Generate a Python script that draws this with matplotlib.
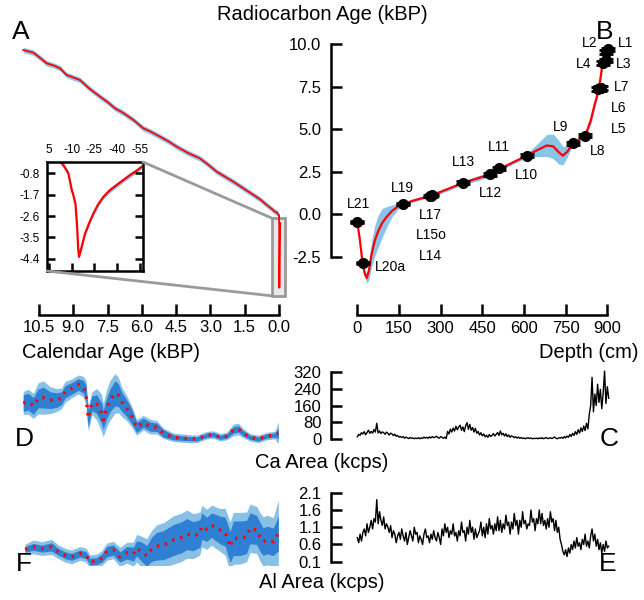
import numpy as np
import matplotlib
matplotlib.use('Agg')
import matplotlib.pyplot as plt
from matplotlib.patches import Rectangle, ConnectionPatch

plt.rcParams['font.family'] = ['Liberation Sans', 'DejaVu Sans']
plt.rcParams['axes.unicode_minus'] = False

# --- panel A: calibration curve (calendar kBP vs radiocarbon kBP)
calib_age = [11.19, 11.0, 10.75, 10.45, 10.16, 9.85, 9.58, 9.29, 9.0, 8.71, 8.3, 7.83,
             7.5, 7.18, 6.8, 6.37, 5.94, 5.6, 5.21, 4.85, 4.48, 4.0, 3.46, 3.1, 2.73,
             2.35, 2.0, 1.55, 1.12, 0.8, 0.54, 0.3, 0.18, 0.08, 0.03, 0.0]
calib_rc = [9.66, 9.6, 9.51, 9.2, 8.88, 8.75, 8.59, 8.19, 8.05, 7.9, 7.4, 6.92,
            6.6, 6.24, 5.95, 5.55, 5.06, 4.85, 4.57, 4.3, 3.98, 3.62, 3.29, 2.92, 2.51,
            2.2, 1.92, 1.52, 1.14, 0.85, 0.55, 0.3, 0.15, 0.1, -0.04, -0.05]
# bomb part (calendar years BP vs radiocarbon kBP)
bomb_year = [0, -5, -7.8, -10, -11, -12.5, -13.5, -14.3, -14.8, -16, -18.8, -21.5,
             -24.3, -27.5, -30.9, -35, -39.7, -44, -48.5, -52.5, -56.2]
bomb_rc = [-0.1, -0.5, -0.8, -1.5, -1.7, -2.1, -3.0, -4.0, -4.32, -4.04, -3.34, -2.9,
           -2.49, -2.1, -1.79, -1.52, -1.29, -1.08, -0.87, -0.7, -0.52]

# --- panel B: age-depth model
model_depth = [0, 10, 19, 27, 34, 42, 52, 62, 75, 90, 106, 125, 145, 166, 200, 265, 320,
               382, 430, 478, 510, 560, 610, 645, 682, 705, 725, 740, 757, 775, 800, 820,
               840, 855, 870, 883, 893, 903]
model_rc = [-0.45, -1.6, -2.88, -3.5, -3.75, -3.3, -2.3, -1.6, -1.0, -0.5, -0.14, 0.2,
            0.45, 0.6, 0.8, 1.1, 1.45, 1.86, 2.1, 2.35, 2.65, 3.05, 3.45, 3.75, 4.05,
            4.0, 3.65, 3.45, 3.7, 4.18, 4.4, 4.62, 5.5, 6.5, 7.37, 8.9, 9.4, 9.75]
model_err = [0.05, 0.08, 0.1, 0.18, 0.3, 0.55, 0.75, 0.9, 0.95, 0.85, 0.6, 0.35, 0.18,
             0.06, 0.08, 0.1, 0.1, 0.1, 0.15, 0.12, 0.1, 0.1, 0.12, 0.35, 0.65, 0.72,
             0.7, 0.55, 0.3, 0.1, 0.1, 0.1, 0.25, 0.25, 0.15, 0.15, 0.12, 0.1]

lab_names = ['L1', 'L2', 'L3', 'L4', 'L5', 'L6', 'L7', 'L8', 'L9', 'L10', 'L11', 'L12',
             'L13', 'L14', 'L15o', 'L17', 'L19', 'L20a', 'L21']
lab_depth = [903, 895, 897, 883, 866, 872, 878, 820, 775, 610, 510, 478, 382, 262, 265,
             268, 166, 19, 0]
lab_rc = [9.7, 9.55, 9.05, 8.9, 7.35, 7.4, 7.45, 4.62, 4.18, 3.45, 2.7, 2.35, 1.86,
          1.08, 1.1, 1.12, 0.6, -2.88, -0.45]
lab_depth_err = [15, 15, 18, 15, 15, 15, 15, 20, 18, 18, 20, 20, 20, 18, 18, 18, 25,
                 22, 25]
lab_rc_err = [0.1, 0.1, 0.1, 0.1, 0.12, 0.12, 0.12, 0.1, 0.1, 0.08, 0.08, 0.08, 0.08,
              0.06, 0.06, 0.06, 0.05, 0.05, 0.05]
label_pos = [(967, 10.06), (835, 10.1), (960, 8.84), (814, 8.84), (940, 5.0),
             (940, 6.24), (952, 7.47), (864, 3.74), (730, 5.12), (610, 2.31),
             (510, 3.94), (480, 1.24), (382, 3.06), (265, -2.43), (265, -1.22),
             (265, -0.04), (163, 1.53), (120, -3.08), (4, 0.6)]

# --- panel C: Ca area vs depth (5 cm steps from 0)
depth_step = 5
ca_raw = [10, 22, 18, 30, 24, 35, 20, 31, 42, 27,
          36, 28, 45, 33, 75, 29, 38, 26, 34, 30,
          22, 33, 27, 19, 28, 24, 16, 23, 13, 17,
          9, 12, 7, 11, 4, 9, 5, 2, 7, 3,
          5, 1, 4, 2, 6, 1, 5, 3, 9, 4,
          8, 3, 10, 5, 11, 6, 9, 13, 7, 4,
          11, 8, 3, 9, 2, 36, 24, 47, 33, 52,
          38, 61, 44, 57, 66, 41, 58, 35, 63, 78,
          46, 70, 42, 55, 33, 51, 27, 36, 19, 30,
          15, 24, 10, 18, 8, 21, 12, 17, 26, 14,
          22, 31, 17, 38, 20, 27, 14, 25, 11, 19,
          8, 15, 12, 6, 11, 4, 9, 3, 7, 2,
          5, 1, 4, 6, 2, 5, 1, 3, 2, 4,
          1, 5, 2, 6, 1, 4, 7, 2, 3, 6,
          2, 5, 10, 3, 1, 6, 4, 8, 3, 11,
          5, 14, 8, 21, 12, 27, 17, 35, 22, 44,
          28, 53, 36, 62, 40, 75, 48, 118, 160, 295,
          130, 215, 160, 262, 175, 238, 145, 220, 325, 170,
          250, 195]

# --- panel E: Al area vs depth (5 cm steps from 0)
al_raw = [0.8, 0.65, 0.9, 0.7, 0.95, 1.05, 0.85, 1.2, 0.95, 1.1, 1.3,
          1.05, 1.35, 1.25, 1.9, 1.2, 1.55, 1.3, 1.15, 1.4, 1.05,
          1.2, 1.1, 0.95, 1.15, 0.8, 1.0, 0.9, 0.65, 0.85, 0.95,
          0.75, 1.05, 0.85, 0.7, 0.95, 0.6, 0.8, 1.0, 0.85, 0.7,
          1.1, 0.9, 0.95, 0.65, 0.85, 0.75, 0.6, 0.9, 1.05, 0.8,
          0.85, 0.65, 0.9, 0.75, 1.0, 0.8, 0.7, 0.95, 0.8, 0.6,
          1.05, 0.85, 1.2, 0.95, 1.1, 0.8, 1.0, 0.9, 1.2, 0.85,
          0.95, 0.7, 1.0, 0.85, 1.25, 0.95, 1.0, 0.7, 1.1, 0.9,
          1.3, 0.95, 1.1, 0.75, 1.05, 0.8, 0.9, 1.0, 1.25, 0.85,
          1.1, 0.8, 1.2, 0.9, 1.35, 1.05, 1.15, 0.9, 1.2, 1.0,
          1.4, 1.0, 1.3, 0.95, 1.2, 1.05, 1.45, 1.15, 1.25, 0.9,
          1.25, 1.05, 1.5, 1.15, 1.3, 0.9, 1.3, 1.1, 1.55, 1.2,
          1.3, 1.05, 1.2, 1.15, 1.6, 1.25, 1.35, 1.0, 1.35, 1.2,
          1.6, 1.2, 1.5, 1.15, 1.3, 1.05, 1.35, 1.1, 1.55, 1.25,
          1.35, 1.0, 1.3, 0.95, 1.1, 0.75, 0.6, 0.4, 0.3, 0.45,
          0.25, 0.5, 0.35, 0.6, 0.45, 0.7, 0.5, 0.8, 0.55, 0.65,
          0.45, 0.75, 0.6, 0.9, 0.55, 0.7, 0.5, 0.85, 1.05, 0.7,
          0.9, 0.55, 0.75, 0.45, 0.65, 0.35, 0.6, 0.4, 0.7, 0.5,
          0.55]

# --- panel D: Ca on calendar age (mean, 1 and 2 sigma half widths)
d_age = [11.19, 10.97, 10.75, 10.53, 10.31, 10.02, 9.73, 9.51, 9.36, 9.07, 8.78, 8.56,
         8.44, 8.39, 8.34, 8.19, 7.98, 7.76, 7.69, 7.54, 7.39, 7.18, 7.03, 6.88, 6.66,
         6.44, 6.23, 5.94, 5.64, 5.35, 5.06, 4.62, 4.04, 3.6, 3.16, 2.87, 2.58, 2.29,
         2.0, 1.78, 1.56, 1.27, 0.91, 0.54, 0.18, 0.03]
d_mean = [173, 178, 158, 195, 198, 186, 186, 195, 226, 242, 261, 250, 218, 139, 99, 171,
          167, 123, 91, 147, 186, 218, 210, 178, 147, 107, 56, 78, 59, 56, 27, 8, 2, 0,
          18, 21, 8, 14, 43, 48, 27, 8, 0, 14, 19, 27]
d_inner = [40, 40, 40, 45, 50, 40, 35, 30, 30, 28, 28, 30, 40, 40, 40, 35, 45, 50, 45,
           50, 55, 60, 55, 45, 40, 35, 25, 22, 22, 20, 18, 12, 10, 10, 10, 10, 10, 10,
           15, 15, 12, 10, 10, 10, 10, 25]
d_outer = [55, 60, 60, 75, 80, 65, 55, 50, 50, 45, 45, 50, 60, 60, 60, 55, 75, 90, 80,
           90, 95, 95, 85, 70, 60, 50, 38, 35, 35, 32, 25, 20, 20, 18, 18, 18, 18, 18,
           28, 28, 22, 18, 18, 18, 18, 55]

# --- panel F: Al on calendar age
f_age = [11.11, 10.75, 10.38, 9.95, 9.66, 9.36, 9.07, 8.71, 8.44, 8.27, 7.98, 7.76,
         7.54, 7.25, 6.96, 6.66, 6.37, 6.23, 6.01, 5.79, 5.57, 5.35, 5.06, 4.62, 4.26,
         4.04, 3.75, 3.46, 3.38, 3.16, 2.95, 2.8, 2.58, 2.36, 2.14, 2.0, 1.71, 1.42,
         1.27, 0.98, 0.83, 0.69, 0.54, 0.25, 0.03]
f_mean = [0.46, 0.53, 0.48, 0.53, 0.39, 0.29, 0.24, 0.34, 0.29, 0.10, 0.12, 0.2, 0.39,
          0.44, 0.24, 0.36, 0.32, 0.49, 0.39, 0.27, 0.46, 0.55, 0.58, 0.73, 0.81, 0.9,
          0.84, 0.92, 1.13, 1.04, 1.16, 1.1, 1.02, 0.97, 0.53, 0.78, 0.78, 0.82, 1.07,
          1.02, 0.82, 0.68, 0.73, 0.68, 0.92]
f_inner = [0.08, 0.1, 0.1, 0.12, 0.1, 0.1, 0.1, 0.1, 0.1, 0.1, 0.1, 0.12, 0.15, 0.15,
           0.15, 0.18, 0.2, 0.22, 0.28, 0.3, 0.35, 0.4, 0.42, 0.45, 0.45, 0.45, 0.42,
           0.4, 0.38, 0.35, 0.35, 0.38, 0.4, 0.42, 0.45, 0.5, 0.5, 0.48, 0.45, 0.42,
           0.42, 0.4, 0.4, 0.4, 0.5]
f_outer = [0.15, 0.2, 0.2, 0.22, 0.2, 0.2, 0.2, 0.2, 0.2, 0.2, 0.2, 0.22, 0.25, 0.25,
           0.28, 0.3, 0.35, 0.4, 0.45, 0.5, 0.55, 0.62, 0.65, 0.7, 0.7, 0.7, 0.65, 0.62,
           0.6, 0.58, 0.58, 0.6, 0.62, 0.68, 0.72, 0.75, 0.75, 0.72, 0.7, 0.68, 0.7,
           0.72, 0.72, 0.7, 0.97]

RED = '#ff0000'
BAND = '#8ac4e6'
LIGHT = '#88c1e5'
DARK = '#2f7fd2'
GRAY = '#9a9a9a'
SPW = 1.8

W, H = 644, 600
fig = plt.figure(figsize=(W / 100, H / 100), dpi=100)


def px_axes(l, t, r, b):
    return fig.add_axes([l / W, 1 - b / H, (r - l) / W, (b - t) / H])


def clean(ax):
    for s in ax.spines.values():
        s.set_visible(False)
    ax.set_xticks([])
    ax.set_yticks([])
    ax.patch.set_alpha(0)


def left_axis(ax, ticks, bounds, fmt):
    ax.spines['left'].set_visible(True)
    ax.spines['left'].set_linewidth(SPW)
    ax.spines['left'].set_bounds(*bounds)
    ax.set_yticks(ticks)
    ax.set_yticklabels([fmt % t for t in ticks])
    ax.tick_params(axis='y', direction='in', length=8, width=SPW, labelsize=12, pad=7)


def bottom_axis(ax, ticks, bounds, fmt, offset):
    ax.spines['bottom'].set_visible(True)
    ax.spines['bottom'].set_linewidth(SPW)
    ax.spines['bottom'].set_bounds(*bounds)
    ax.spines['bottom'].set_position(('outward', offset))
    ax.set_xticks(ticks)
    ax.set_xticklabels([fmt % t for t in ticks])
    ax.tick_params(axis='x', direction='in', length=8, width=SPW, labelsize=12, pad=4)


LX = (11.55, -0.48)        # left column calendar age range
RX = (-94.7, 988.8)        # right column depth range
LEFT = (15, 290)
RIGHT = (331, 632)

# ---------------- A
axA = px_axes(LEFT[0], 39.2, LEFT[1], 299.3)
clean(axA)
axA.set_xlim(*LX)
axA.set_ylim(-5.0, 10.3)
ca_ = np.array(calib_age + [y / 1000 for y in bomb_year])
cr_ = np.array(calib_rc + bomb_rc)
axA.fill_between(calib_age, np.array(calib_rc) - 0.16, np.array(calib_rc) + 0.16,
                 color=BAND, lw=0)
axA.plot(ca_, cr_, color=RED, lw=1.3)
bottom_axis(axA, [10.5, 9.0, 7.5, 6.0, 4.5, 3.0, 1.5, 0.0], (10.5, 0.0), '%.1f', 11)

zoom_box = (-0.26, -4.8, 0.55, 4.56)   # x0, y0, width, height in A data units
axA.add_patch(Rectangle(zoom_box[:2], zoom_box[2], zoom_box[3], facecolor='#e8e8e8',
                        edgecolor=GRAY, lw=2, zorder=1))

ins = px_axes(47, 162, 143, 271)
ins.set_xlim(6.3, -57.0)
ins.set_ylim(-4.92, -0.32)
ins.fill_between(bomb_year, np.array(bomb_rc) - 0.1, np.array(bomb_rc) + 0.1,
                 color=BAND, lw=0)
ins.plot(bomb_year, bomb_rc, color=RED, lw=1.6)
for s in ins.spines.values():
    s.set_linewidth(SPW)
ins.set_xticks([5, -10, -25, -40, -55])
ins.set_xticklabels(['5', '-10', '-25', '-40', '-55'])
ins.set_yticks([-0.8, -1.7, -2.6, -3.5, -4.4])
ins.set_yticklabels(['-0.8', '-1.7', '-2.6', '-3.5', '-4.4'])
ins.tick_params(axis='x', direction='in', length=6, width=SPW, labelsize=8.5,
                bottom=True, top=False, labelbottom=False, labeltop=True, pad=4)
ins.tick_params(axis='y', direction='in', length=6, width=SPW, labelsize=8.5,
                left=True, right=True, pad=5)

for xa, xb in [((1, 1), (zoom_box[0] + zoom_box[2], zoom_box[1] + zoom_box[3])),
               ((0, 0), (zoom_box[0] + zoom_box[2], zoom_box[1]))]:
    fig.add_artist(ConnectionPatch(xyA=xa, coordsA=ins.transAxes, xyB=xb,
                                   coordsB=axA.transData, color=GRAY, lw=2))

# ---------------- B
axB = px_axes(RIGHT[0], 39.2, RIGHT[1], 299.3)
clean(axB)
axB.set_xlim(*RX)
axB.set_ylim(-5.0, 10.3)
mr = np.array(model_rc)
me = np.array(model_err)
axB.fill_between(model_depth, mr - me, mr + me, color=BAND, lw=0)
axB.plot(model_depth, model_rc, color=RED, lw=1.6)
axB.errorbar(lab_depth, lab_rc, yerr=lab_rc_err, fmt='none', ecolor='black',
             elinewidth=2, capsize=5, capthick=2)
axB.errorbar(lab_depth, lab_rc, xerr=lab_depth_err, fmt='o', ms=7, color='black',
             elinewidth=2, capsize=0)
for name, (tx, ty) in zip(lab_names, label_pos):
    axB.text(tx, ty, name, fontsize=10, ha='center', va='center')
left_axis(axB, [-2.5, 0.0, 2.5, 5.0, 7.5, 10.0], (-2.5, 10.0), '%.1f')
bottom_axis(axB, [0, 150, 300, 450, 600, 750, 900], (0, 900), '%d', 11.5)

# ---------------- C / D
axC = px_axes(RIGHT[0], 369, RIGHT[1], 442.1)
clean(axC)
axC.set_xlim(*RX)
axC.set_ylim(-15, 335)
axC.plot(np.arange(len(ca_raw)) * depth_step, ca_raw, color='black', lw=1.0)
left_axis(axC, [0, 80, 160, 240, 320], (0, 320), '%d')

axD = px_axes(LEFT[0], 369, LEFT[1], 442.1)
clean(axD)
axD.set_xlim(*LX)
axD.set_ylim(-15, 335)
dm = np.array(d_mean, float)
axD.fill_between(d_age, dm - d_outer, dm + np.array(d_outer), color=LIGHT, lw=0)
axD.fill_between(d_age, dm - d_inner, dm + np.array(d_inner), color=DARK, lw=0)
axD.plot(d_age, d_mean, color=RED, lw=2.4, ls=(0, (0.7, 1.8)))

# ---------------- E / F
axE = px_axes(RIGHT[0], 491, RIGHT[1], 565.2)
clean(axE)
axE.set_xlim(*RX)
axE.set_ylim(0.0, 2.15)
axE.plot(np.arange(len(al_raw)) * depth_step, al_raw, color='black', lw=1.0)
left_axis(axE, [0.1, 0.6, 1.1, 1.6, 2.1], (0.1, 2.1), '%.1f')

axF = px_axes(LEFT[0], 491, LEFT[1], 565.2)
clean(axF)
axF.set_xlim(*LX)
axF.set_ylim(0.0, 2.15)
fm = np.array(f_mean)
axF.fill_between(f_age, fm - f_outer, fm + np.array(f_outer), color=LIGHT, lw=0)
axF.fill_between(f_age, fm - f_inner, fm + np.array(f_inner), color=DARK, lw=0)
axF.plot(f_age, f_mean, color=RED, lw=2.4, ls=(0, (0.7, 1.8)))


# ---------------- texts
def ftext(x, y, s, size, **kw):
    fig.text(x / W, 1 - y / H, s, fontsize=size, ha='center', va='center', **kw)


ftext(322, 15, 'Radiocarbon Age (kBP)', 14.5)
ftext(111, 352, 'Calendar Age (kBP)', 14.5)
ftext(589, 352, 'Depth (cm)', 14.5)
ftext(322, 463, 'Ca Area (kcps)', 14.5)
ftext(322, 582, 'Al Area (kcps)', 14.5)
ftext(21, 32, 'A', 19)
ftext(605, 32, 'B', 19)
ftext(609, 439, 'C', 19)
ftext(24, 439, 'D', 19)
ftext(608, 564, 'E', 19)
ftext(24, 564, 'F', 19)

fig.savefig('out.png', dpi=100)
